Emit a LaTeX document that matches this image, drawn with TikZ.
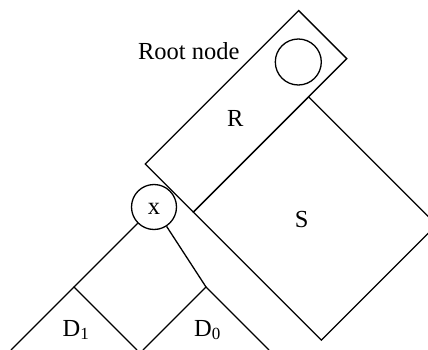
\documentclass[tikz,border=0pt]{standalone}
\usepackage{fontspec}
\setmainfont{Liberation Serif}
\newcommand\lowidx[1]{\raisebox{-0.16em}{\fontsize{17}{17}\selectfont #1}}
\begin{document}
\begin{tikzpicture}[x=1pt,y=-1pt,
  edge/.style={line width=1.3pt, black},
  box/.style={draw, line width=1.3pt, rectangle, inner sep=0pt},
  ring/.style={draw, line width=1.3pt, circle, inner sep=0pt},
  lbl/.style={inner sep=0pt, anchor=base, font=\fontsize{24.5}{29}\selectfont}]
\useasboundingbox (0,0) rectangle (428,350);
\clip (0,0) rectangle (428,350);

% subtree S below the root strip, and the root strip R
\node[box, minimum width=181pt, minimum height=163pt, rotate=-45] (S) at (315,218.5) {};
\node[box, fill=white, minimum width=217pt, minimum height=68pt, rotate=45] (R) at (246,111.3) {};
\node[ring, minimum size=46pt] (root) at (298.3,62) {};

% node x and its two subtrees
\node[ring, fill=white, minimum size=45pt] (x) at (154,207) {};
\coordinate (d1) at (74,287);
\coordinate (d0) at (206,287);
\coordinate (d1l) at (11,350);
\coordinate (d1r) at (137,350);
\coordinate (d0l) at (143,350);
\coordinate (d0r) at (269,350);
\draw[edge] (x) -- (d1);
\draw[edge] (x) -- (d0);
\draw[edge] (d1l) -- (d1) -- (d1r);
\draw[edge] (d0l) -- (d0) -- (d0r);

% labels
\node[lbl] (rootlbl) at (188.7,60) {Root node};
\node[lbl] (Rlbl) at (235.3,126.7) {R};
\node[lbl] (Slbl) at (301.7,227.3) {S};
\node[lbl] (xlbl) at (154,214.3) {x};
\node[lbl, anchor=base west] (D1lbl) at (62.5,336) {D\lowidx{1}};
\node[lbl, anchor=base west] (D0lbl) at (194,336) {D\lowidx{0}};
\end{tikzpicture}
\end{document}
